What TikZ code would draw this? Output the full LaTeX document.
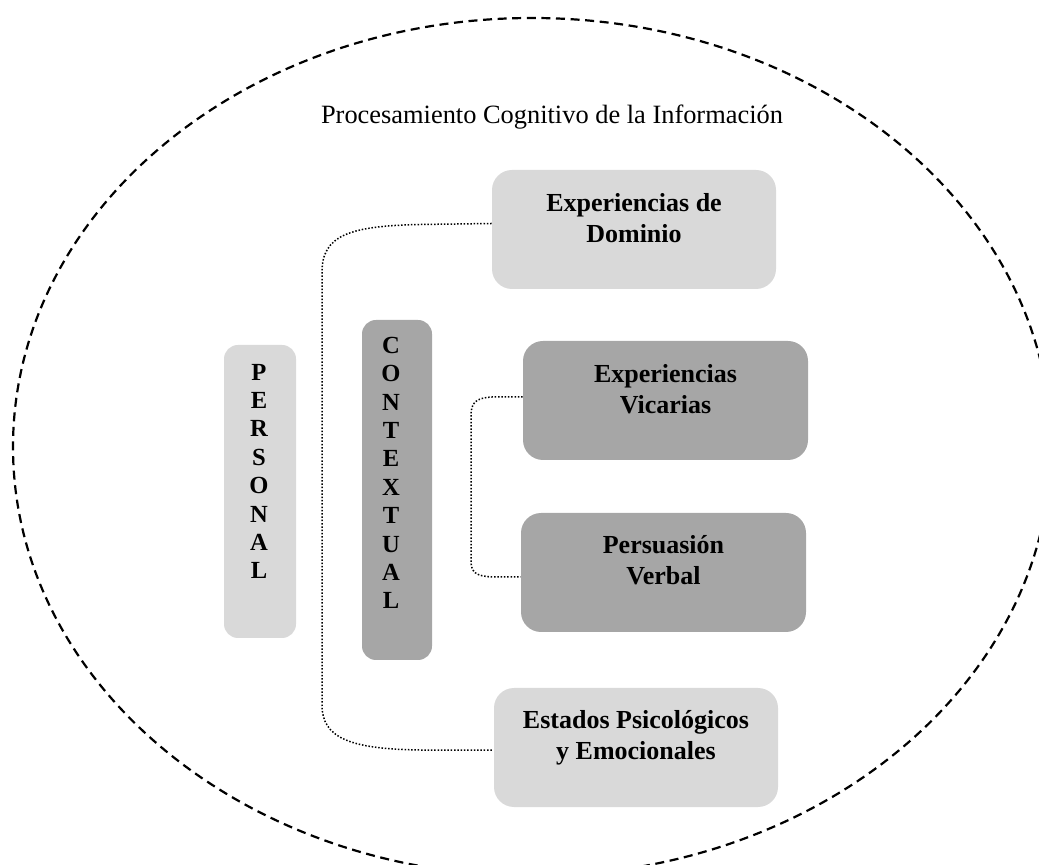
\documentclass[tikz,border=0pt]{standalone}
\usepackage{fontspec}
\setmainfont{Liberation Serif}
\usetikzlibrary{fit,calc}
\definecolor{lightfill}{HTML}{D9D9D9}
\definecolor{darkfill}{HTML}{A6A6A6}
\tikzset{
  lightbox/.style={fill=lightfill, draw=none, rounded corners=10pt, inner sep=0pt},
  darkbox/.style={fill=darkfill, draw=none, rounded corners=10pt, inner sep=0pt},
  slimlight/.style={fill=lightfill, draw=none, rounded corners=7pt, inner sep=0pt},
  slimdark/.style={fill=darkfill, draw=none, rounded corners=7pt, inner sep=0pt},
  boxtext/.style={anchor=north, inner sep=0pt, align=center, font=\fontsize{13}{15.5}\selectfont\bfseries},
  stacktext/.style={anchor=north, inner sep=0pt, align=center, font=\fontsize{12.3}{14.2}\selectfont\bfseries},
  link/.style={line width=0.75pt, dash pattern=on 0.75pt off 0.9pt},
  frame/.style={line width=1.1pt, dash pattern=on 4.5pt off 2.8pt}
}
\begin{document}
\begin{tikzpicture}[x=0.5pt, y=-0.5pt]
  \useasboundingbox (0,0) rectangle (1039,865);
  \clip (0,0) rectangle (1039,865);

  % outer boundary
  \draw[frame] (532,447) ellipse [x radius=519, y radius=429];

  % title
  \node[anchor=base, inner sep=0pt, font=\fontsize{13.2}{15.5}\selectfont] (title) at (552,124)
    {Procesamiento Cognitivo de la Información};

  % side bars
  \node[slimlight, fit={(224,345) (296,638)}] (personal) {};
  \node[stacktext] (personaltxt) at ($(personal.north)+(-1,19)$) {P\\E\\R\\S\\O\\N\\A\\L};
  \node[slimdark, fit={(362,320) (432,660)}] (contextual) {};
  \node[stacktext] (contextualtxt) at ($(contextual.north)+(-6,17)$) {C\\O\\N\\T\\E\\X\\T\\U\\A\\L};

  % source boxes
  \node[lightbox, fit={(492,170) (776,289)}] (dom) {};
  \node[boxtext] (domtxt) at ($(dom.north)+(0,23)$) {Experiencias de\\Dominio};

  \node[darkbox, fit={(523,341) (808,460)}] (vic) {};
  \node[boxtext] (victxt) at ($(vic.north)+(0,23)$) {Experiencias\\Vicarias};

  \node[darkbox, fit={(521,513) (806,632)}] (per) {};
  \node[boxtext] (pertxt) at ($(per.north)+(0,22)$) {Persuasión\\Verbal};

  \node[lightbox, fit={(494,688) (778,807)}] (est) {};
  \node[boxtext] (esttxt) at ($(est.north)+(0,22)$) {Estados Psicológicos\\y Emocionales};

  % dotted brackets
  \draw[link] ($(dom.west)+(0,-6)$) -- (420,224.5)
      .. controls (350,226) and (322,235) .. (322,272)
      -- (322,705)
      .. controls (322,738) and (350,749) .. (420,750)
      -- ($(est.west)+(0,2.5)$);
  \draw[link] ($(vic.west)+(0,-3.5)$) -- (492,397)
      .. controls (475,398) and (471,403) .. (471,416)
      -- (471,560)
      .. controls (471,572) and (475,576) .. (492,577)
      -- ($(per.west)+(0,4.5)$);
\end{tikzpicture}
\end{document}
